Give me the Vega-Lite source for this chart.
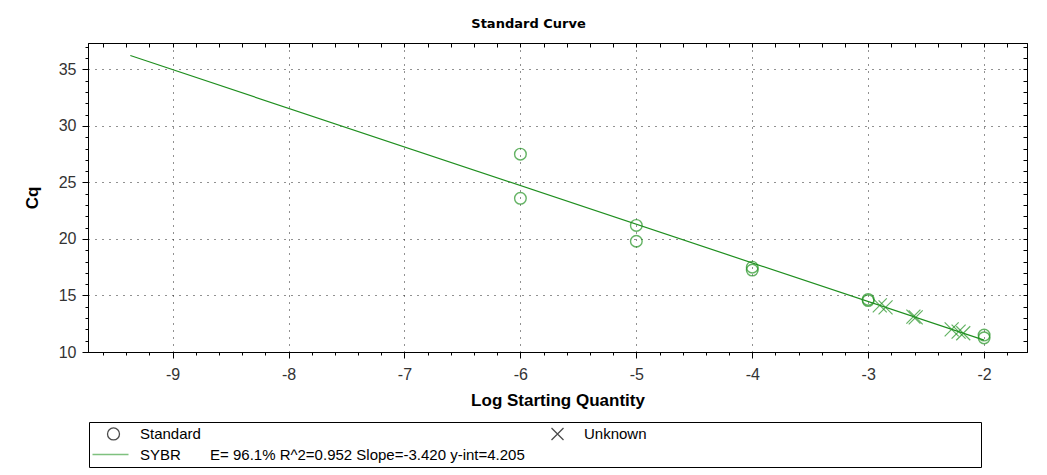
{
  "$schema": "https://vega.github.io/schema/vega-lite/v6.json",
  "width": 939,
  "height": 309,
  "autosize": {"type": "none"},
  "padding": {"left": 88, "top": 43, "right": 20, "bottom": 123},
  "background": "white",
  "title": {"text": "Standard Curve", "font": "DejaVu Sans", "fontSize": 13, "fontWeight": "bold", "color": "black", "dx": -29, "offset": 12},
  "datasets": {
    "fit": [
      {"x": -9.365, "y": 36.23},
      {"x": -2, "y": 11.045}
    ],
    "standard": [
      {"x": -6, "y": 27.5, "series": "Standard"},
      {"x": -6, "y": 23.6, "series": "Standard"},
      {"x": -5, "y": 21.2, "series": "Standard"},
      {"x": -5, "y": 19.8, "series": "Standard"},
      {"x": -4, "y": 17.5, "series": "Standard"},
      {"x": -4, "y": 17.25, "series": "Standard"},
      {"x": -3, "y": 14.65, "series": "Standard"},
      {"x": -3, "y": 14.55, "series": "Standard"},
      {"x": -2, "y": 11.5, "series": "Standard"},
      {"x": -2, "y": 11.25, "series": "Standard"}
    ],
    "unknown": [
      {"x": -2.90, "y": 14.12, "series": "Unknown"},
      {"x": -2.85, "y": 13.95, "series": "Unknown"},
      {"x": -2.61, "y": 13.13, "series": "Unknown"},
      {"x": -2.59, "y": 13.06, "series": "Unknown"},
      {"x": -2.28, "y": 12.0, "series": "Unknown"},
      {"x": -2.22, "y": 11.8, "series": "Unknown"},
      {"x": -2.18, "y": 11.66, "series": "Unknown"}
    ]
  },
  "resolve": {"axis": {"x": "independent", "y": "independent"}},
  "layer": [
    {
      "data": {"name": "fit"},
      "mark": {"type": "line", "color": "#1f8f1f", "strokeWidth": 1.2},
      "encoding": {
        "x": {
          "field": "x", "type": "quantitative",
          "scale": {"domain": [-9.73, -1.63], "nice": false, "zero": false},
          "axis": {
            "orient": "bottom",
            "values": [-9, -8, -7, -6, -5, -4, -3, -2],
            "labelExpr": "'' + datum.value",
            "grid": true, "gridDash": [1, 6], "gridColor": "#222", "gridWidth": 1,
            "tickSize": 6, "tickColor": "black", "domainColor": "black",
            "labelFont": "Liberation Sans", "labelFontSize": 16, "labelColor": "#333", "labelPadding": 8,
            "title": "Log Starting Quantity", "titleFont": "Liberation Sans", "titleFontSize": 17, "titleFontWeight": "bold", "titleColor": "black", "titlePadding": 10
          }
        },
        "y": {
          "field": "y", "type": "quantitative",
          "scale": {"domain": [10, 37.34], "nice": false, "zero": false},
          "axis": {
            "orient": "left",
            "values": [10, 15, 20, 25, 30, 35],
            "grid": true, "gridDash": [1, 6], "gridColor": "#222", "gridWidth": 1,
            "tickSize": 6, "tickColor": "black", "domainColor": "black",
            "labelFont": "Liberation Sans", "labelFontSize": 16, "labelColor": "#333", "labelPadding": 6,
            "title": "Cq", "titleFont": "Liberation Sans", "titleFontSize": 17, "titleFontWeight": "bold", "titleColor": "black", "titlePadding": 17
          }
        }
      }
    },
    {
      "data": {"name": "standard"},
      "mark": {"type": "point", "filled": false, "size": 135, "strokeWidth": 1.4, "color": "#239323"},
      "encoding": {
        "x": {
          "field": "x", "type": "quantitative",
          "axis": {
            "orient": "bottom",
            "values": [-9.6,-9.4,-9.2,-8.8,-8.6,-8.4,-8.2,-7.8,-7.6,-7.4,-7.2,-6.8,-6.6,-6.4,-6.2,-5.8,-5.6,-5.4,-5.2,-4.8,-4.6,-4.4,-4.2,-3.8,-3.6,-3.4,-3.2,-2.8,-2.6,-2.4,-2.2,-1.8],
            "labels": false, "grid": false, "domain": false, "tickSize": 3, "tickColor": "black", "title": null
          }
        },
        "y": {
          "field": "y", "type": "quantitative",
          "axis": {
            "orient": "left",
            "values": [11,12,13,14,16,17,18,19,21,22,23,24,26,27,28,29,31,32,33,34,36,37],
            "labels": false, "grid": false, "domain": false, "tickSize": 3, "tickColor": "black", "title": null
          }
        },
        "shape": {
          "field": "series", "type": "nominal",
          "scale": {
            "domain": ["Standard", "Unknown", "SYBR\u00a0\u00a0\u00a0\u00a0\u00a0\u00a0\u00a0E= 96.1% R^2=0.952 Slope=-3.420 y-int=4.205"],
            "range": ["circle", "M-1,-1L1,1M-1,1L1,-1", "M-3.5,0H2.5"]
          },
          "legend": {
            "title": "\u00a0",
            "symbolStrokeColor": {"expr": "datum.value === 'Standard' || datum.value === 'Unknown' ? 'black' : '#4aa84a'"}
          }
        }
      }
    },
    {
      "data": {"name": "unknown"},
      "mark": {"type": "point", "filled": false, "size": 196, "strokeWidth": 1.2, "color": "#239323"},
      "encoding": {
        "x": {
          "field": "x", "type": "quantitative",
          "axis": {
            "orient": "top",
            "values": [-9.6,-9.4,-9.2,-9,-8.8,-8.6,-8.4,-8.2,-8,-7.8,-7.6,-7.4,-7.2,-7,-6.8,-6.6,-6.4,-6.2,-6,-5.8,-5.6,-5.4,-5.2,-5,-4.8,-4.6,-4.4,-4.2,-4,-3.8,-3.6,-3.4,-3.2,-3,-2.8,-2.6,-2.4,-2.2,-2,-1.8],
            "labels": false, "grid": false, "domain": true, "domainColor": "black", "tickSize": -4, "tickColor": "black", "title": null
          }
        },
        "y": {
          "field": "y", "type": "quantitative",
          "axis": {
            "orient": "right",
            "values": [10,11,12,13,14,15,16,17,18,19,20,21,22,23,24,25,26,27,28,29,30,31,32,33,34,35,36,37],
            "labels": false, "grid": false, "domain": true, "domainColor": "black", "tickSize": -4, "tickColor": "black", "title": null
          }
        },
        "shape": {
          "field": "series", "type": "nominal",
          "legend": {
            "title": "\u00a0",
            "symbolStrokeColor": {"expr": "datum.value === 'Standard' || datum.value === 'Unknown' ? 'black' : '#4aa84a'"}
          }
        }
      }
    }
  ],
  "config": {
    "view": {"stroke": "black", "strokeWidth": 1},
    "legend": {
      "orient": "none",
      "legendX": 1,
      "legendY": 379,
      "direction": "horizontal",
      "columns": 2,
      "strokeColor": "black",
      "padding": 4,
      "rowPadding": 4,
      "columnPadding": 12,
      "symbolSize": 144,
      "symbolStrokeWidth": 1.3,
      "symbolOffset": 13,
      "labelOffset": 19,
      "labelFont": "Liberation Sans",
      "labelFontSize": 15,
      "labelColor": "black",
      "labelLimit": 600,
      "titleOrient": "right",
      "titlePadding": 330,
      "titleFontSize": 15
    }
  }
}
